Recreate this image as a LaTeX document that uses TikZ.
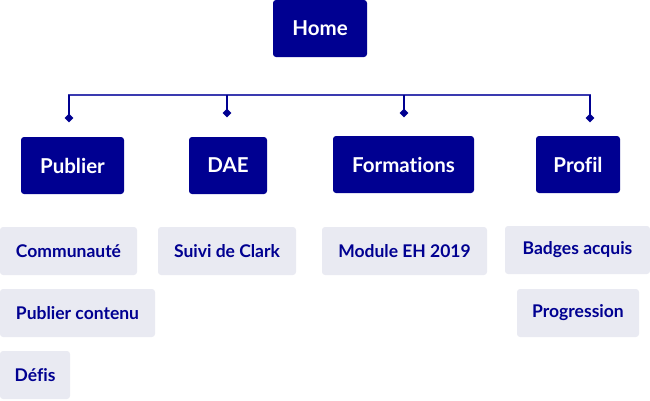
\documentclass[tikz,border=0pt]{standalone}
\usepackage{fontspec}
\setmainfont{Lato}[BoldFont={Lato Bold}, Ligatures=NoCommon]
\usetikzlibrary{shapes.geometric}
\definecolor{navy}{HTML}{000091}
\definecolor{barc}{HTML}{3A3AB0}
\definecolor{pale}{HTML}{E9EAF2}
\tikzset{
  mainbox/.style={fill=navy, text=white, rounded corners=3pt, font=\bfseries\fontsize{20.5}{22}\selectfont, inner sep=0pt},
  subbox/.style={fill=pale, text=navy, rounded corners=3pt, font=\bfseries\fontsize{17.5}{20}\selectfont, inner sep=0pt},
  drop/.style={draw=navy, line width=1.5pt},
  barline/.style={draw=barc, line width=2pt},
  dia/.style={diamond, fill=navy, inner sep=0pt, minimum size=9pt}
}
\begin{document}
\begin{tikzpicture}[x=1pt,y=-1pt]
\useasboundingbox (0,0) rectangle (650,400);
% main boxes
\node[mainbox, minimum width=94pt, minimum height=57pt] (home) at (320,28.5) {Home};
\node[mainbox, minimum width=103pt, minimum height=57pt] (pub) at (72.5,165.5) {Publier};
\node[mainbox, minimum width=78pt, minimum height=57pt] (dae) at (228,165.5) {DAE};
\node[mainbox, minimum width=141pt, minimum height=57pt] (form) at (403.5,164.5) {Formations};
\node[mainbox, minimum width=84pt, minimum height=57pt] (prof) at (578,164.5) {Profil};
% sub boxes
\node[subbox, minimum width=137pt, minimum height=48pt] (comm) at (68.5,251) {Communauté};
\node[subbox, minimum width=155pt, minimum height=48pt] (pcont) at (77.5,313) {Publier contenu};
\node[subbox, minimum width=70pt, minimum height=48pt] (defis) at (35,375) {Défis};
\node[subbox, minimum width=138pt, minimum height=48pt] (suivi) at (227,251) {Suivi de Clark};
\node[subbox, minimum width=165pt, minimum height=48pt] (mod) at (404.5,251) {Module EH 2019};
\node[subbox, minimum width=145pt, minimum height=48pt] (badg) at (577.5,250) {Badges acquis};
\node[subbox, minimum width=122pt, minimum height=48pt] (prog) at (578,313) {Progression};
% connectors
\coordinate (bL) at (69,95);
\coordinate (bR) at (590,95);
\node[dia] (dpub) at (69,118) {};
\node[dia] (ddae) at (227,113) {};
\node[dia] (dform) at (404,113) {};
\node[dia] (dprof) at (590,118) {};
\draw[barline] ([xshift=-0.75pt]bL) -- ([xshift=0.75pt]bR);
\draw[drop] (dpub.center) -- (dpub.center|-bL);
\draw[drop] (ddae.center) -- (ddae.center|-bL);
\draw[drop] (dform.center) -- (dform.center|-bL);
\draw[drop] (dprof.center) -- (dprof.center|-bL);
\end{tikzpicture}
\end{document}
